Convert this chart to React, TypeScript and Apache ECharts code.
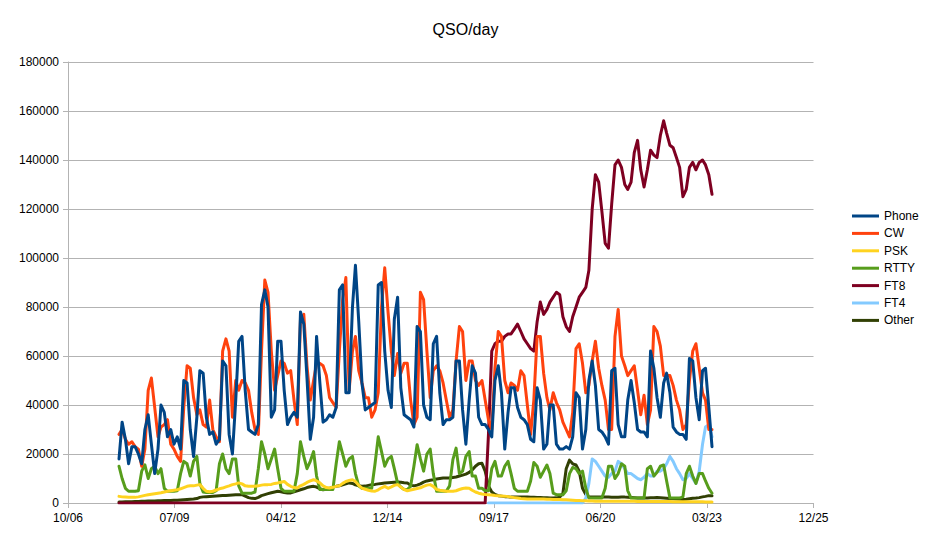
import React, { useEffect, useRef } from "react";
import * as echarts from "echarts";

// Monthly samples (1st of each month); all series start at firstMonth except FT4
const firstMonth = "2008-02";
const ft4FirstMonth = "2017-08";

const seriesNames = ["Phone", "CW", "PSK", "RTTY", "FT8", "FT4", "Other"];
const seriesColors = ["#004586", "#ff420e", "#ffd320", "#579d1c", "#7e0021", "#83caff", "#314004"];

const phone = [
  18000, 33000, 26000, 16000, 23000, 23000, 20000, 16000, 30000, 36000, 24000,
  12000, 22000, 40000, 37000, 27000, 30000, 24000, 27000, 22000, 50000, 49000, 30000,
  19000, 35000, 54000, 53000, 35000, 28000, 29000, 24000, 26000, 58000, 56000, 28000,
  20000, 42000, 66000, 68000, 46000, 30000, 29000, 28000, 32000, 81000, 87000, 80000,
  35000, 38000, 66000, 66000, 46000, 32000, 35000, 37000, 35000, 78000, 73000, 51000,
  26000, 35000, 68000, 49000, 33000, 34000, 36000, 35000, 39000, 87000, 89000, 45000,
  45000, 80000, 97000, 74000, 49000, 38000, 39000, 40000, 41000, 89000, 90000, 62000,
  46000, 39000, 75000, 84000, 47000, 36000, 35000, 34000, 31000, 72000, 70000, 40000,
  35000, 34000, 65000, 68000, 45000, 32000, 34000, 34000, 35000, 58000, 58000, 38000,
  24000, 42000, 56000, 53000, 35000, 32000, 32000, 30000, 27000, 50000, 56000, 45000,
  22000, 37000, 47000, 47000, 39000, 35000, 34000, 32000, 26000, 25000, 47000, 42000,
  22000, 24000, 40000, 40000, 24000, 22000, 22000, 23000, 22000, 27000, 45000, 43000,
  22000, 30000, 50000, 58000, 48000, 30000, 29000, 27000, 24000, 54000, 55000, 32000,
  27000, 27000, 42000, 50000, 41000, 30000, 29000, 29000, 27000, 62000, 55000, 43000,
  35000, 49000, 53000, 45000, 31000, 29000, 28000, 28000, 26000, 59000, 58000, 43000,
  34000, 54000, 55000, 39000, 23000,
];

const cw = [
  28000, 30000, 26000, 24000, 25000, 23000, 22000, 15000, 22000, 46000, 51000,
  39000, 27000, 31000, 32000, 34000, 24000, 22000, 19000, 17000, 39000, 56000, 55000,
  43000, 36000, 38000, 32000, 31000, 42000, 30000, 27000, 25000, 62000, 67000, 62000,
  35000, 50000, 46000, 50000, 49000, 46000, 37000, 30000, 28000, 62000, 91000, 86000,
  62000, 46000, 52000, 58000, 57000, 53000, 54000, 42000, 32000, 75000, 77000, 56000,
  42000, 50000, 57000, 57000, 56000, 52000, 43000, 41000, 39000, 62000, 83000, 92000,
  46000, 62000, 68000, 54000, 49000, 43000, 43000, 35000, 38000, 45000, 80000, 96000,
  78000, 62000, 52000, 61000, 53000, 57000, 57000, 42000, 32000, 35000, 86000, 83000,
  62000, 43000, 54000, 56000, 54000, 49000, 42000, 35000, 38000, 58000, 72000, 70000,
  50000, 58000, 58000, 50000, 48000, 50000, 42000, 34000, 30000, 55000, 70000, 68000,
  50000, 45000, 49000, 48000, 46000, 54000, 52000, 40000, 28000, 42000, 68000, 68000,
  53000, 43000, 38000, 45000, 41000, 38000, 33000, 30000, 27000, 37000, 63000, 65000,
  57000, 45000, 48000, 58000, 66000, 55000, 48000, 42000, 30000, 30000, 68000, 79000,
  60000, 56000, 52000, 54000, 56000, 46000, 36000, 44000, 32000, 38000, 72000, 70000,
  64000, 52000, 52000, 52000, 48000, 42000, 38000, 30000, 32000, 50000, 62000, 65000,
  55000, 45000, 42000, 30000, 30000,
];

const psk = [
  2700, 2500, 2400, 2300, 2300, 2300, 2500, 2800, 3100, 3400, 3600,
  3800, 4000, 4200, 4500, 4800, 5000, 5200, 5400, 5800, 6300, 6800, 7000,
  7000, 7300, 7500, 6000, 4800, 4600, 4800, 5300, 5800, 6100, 6600, 7000,
  7500, 7800, 8200, 7800, 7000, 6800, 6800, 6800, 7000, 7300, 7500, 7500,
  7600, 8000, 8200, 8500, 8800, 7600, 6800, 6300, 6100, 7000, 7600, 8400,
  9000, 9500, 9000, 8200, 7000, 6300, 6100, 6400, 6800, 7000, 8000, 8800,
  9200, 9500, 8800, 7200, 6100, 5600, 5200, 4900, 4800, 5400, 6200, 6800,
  6000, 6600, 7200, 7500, 6500, 5500, 5000, 5300, 5600, 5900, 6200, 6800,
  7300, 7500, 6800, 5500, 5200, 5000, 4800, 4800, 4800, 5000, 5500, 5900,
  6100, 6000, 5200, 4500, 4000, 3700, 3500, 3400, 3300, 3100, 3000, 2900,
  2800, 2600, 2400, 2200, 2000, 1800, 1700, 1600, 1600, 1600, 1600, 1600,
  1600, 1500, 1500, 1400, 1400, 1400, 1300, 1300, 1200, 1100, 1000, 1000,
  900, 900, 800, 800, 700, 700, 700, 700, 700, 700, 700, 700,
  700, 700, 700, 700, 700, 600, 600, 600, 600, 600, 600, 600,
  600, 600, 600, 600, 500, 500, 500, 500, 500, 500, 500, 500,
  500, 500, 400, 400, 400,
];

const rtty = [
  15000, 10000, 6000, 4800, 4800, 4800, 5000, 13000, 15600, 10000, 14000,
  15000, 12000, 14000, 6000, 4800, 4800, 4800, 5000, 12000, 17000, 16000, 11000,
  17000, 19000, 8000, 4500, 4300, 4300, 4300, 5000, 16000, 20000, 14000, 12000,
  18000, 18000, 7000, 4000, 4000, 4000, 4000, 4500, 14000, 25000, 20000, 14000,
  18000, 22000, 14000, 6000, 4800, 4800, 4800, 4800, 12000, 25000, 19000, 14000,
  17000, 21000, 11000, 5500, 5500, 5500, 5500, 5500, 16000, 25000, 20000, 15000,
  18000, 19000, 12000, 7000, 6000, 6000, 6000, 6000, 16000, 27000, 21000, 15000,
  18000, 19000, 14000, 8000, 6500, 5500, 5500, 6800, 15000, 23800, 18000, 13000,
  20000, 22000, 12000, 4800, 4800, 4800, 4800, 7000, 17700, 22400, 12000, 13000,
  19000, 21000, 11000, 11000, 6000, 6000, 5000, 5000, 14000, 17000, 11000, 11000,
  15000, 17000, 12000, 6000, 4800, 4800, 4800, 4800, 9000, 16500, 15000, 10500,
  13000, 15500, 12000, 4000, 3400, 3400, 3400, 5000, 12000, 14500, 14000, 12000,
  13000, 6000, 2000, 2000, 2000, 2000, 2000, 6000, 15000, 15000, 10000, 12000,
  16000, 15000, 5000, 2000, 2000, 2000, 2000, 2000, 14000, 15000, 11000, 12500,
  15000, 15500, 9000, 2000, 2000, 2000, 2000, 2500, 12000, 15000, 11000, 8000,
  12000, 12000, 9000, 6000, 4000,
];

const ft8 = [
  0, 0, 0, 0, 0, 0, 0, 0, 0, 0, 0,
  0, 0, 0, 0, 0, 0, 0, 0, 0, 0, 0, 0,
  0, 0, 0, 0, 0, 0, 0, 0, 0, 0, 0, 0,
  0, 0, 0, 0, 0, 0, 0, 0, 0, 0, 0, 0,
  0, 0, 0, 0, 0, 0, 0, 0, 0, 0, 0, 0,
  0, 0, 0, 0, 0, 0, 0, 0, 0, 0, 0, 0,
  0, 0, 0, 0, 0, 0, 0, 0, 0, 0, 0, 0,
  0, 0, 0, 0, 0, 0, 0, 0, 0, 0, 0, 0,
  0, 0, 0, 0, 0, 0, 0, 0, 0, 0, 0, 0,
  0, 0, 0, 0, 0, 0, 0, 28000, 62000, 65000, 66000, 66000,
  68000, 69000, 69000, 71000, 73000, 70000, 67000, 65000, 63000, 62000, 74000, 82000,
  77000, 79000, 82000, 84000, 86000, 85000, 76000, 72000, 70000, 76000, 80000, 84000,
  86000, 88000, 95000, 120000, 134000, 131000, 119000, 106000, 104000, 122000, 138000, 140000,
  137000, 130000, 128000, 131000, 143000, 148000, 136000, 129000, 136000, 144000, 142000, 141000,
  150000, 156000, 151000, 146000, 145000, 141000, 137000, 125000, 128000, 137000, 139000, 136000,
  139000, 140000, 138000, 134000, 126000,
];

const ft4 = [
  0, 0, 0, 0, 0,
  0, 0, 0, 0, 0, 0, 0, 0, 0, 0, 0, 0,
  0, 0, 0, 0, 0, 0, 0, 0, 0, 0, 0, 0,
  0, 2000, 8000, 18000, 17000, 15000, 13000, 11000, 10500, 12000, 13000, 17000,
  16000, 14000, 12000, 12000, 11000, 10000, 9500, 10500, 12000, 11000, 11000, 13000,
  13000, 14000, 16000, 19000, 17000, 14000, 12000, 9500, 10000, 12000, 10000, 8000,
  13000, 24000, 31000, 32000, 27000,
];

const other = [
  400, 400, 500, 500, 500, 600, 600, 700, 700, 800, 800,
  800, 900, 900, 1000, 1000, 1000, 1100, 1100, 1200, 1300, 1400, 1500,
  1600, 1800, 2300, 2500, 2600, 2700, 2800, 2900, 3000, 3100, 3100, 3200,
  3300, 3400, 3400, 3400, 2800, 2200, 1900, 1800, 2300, 3000, 3400, 3800,
  4200, 4500, 4800, 4600, 4300, 4100, 4100, 4600, 5000, 5400, 5800, 6300,
  6600, 6800, 6500, 5800, 5400, 5600, 6000, 6500, 6800, 7000, 7400, 7800,
  8200, 8000, 7400, 7000, 6800, 6900, 7200, 7500, 7600, 7800, 8000, 8200,
  8300, 8400, 8500, 8600, 8500, 8300, 8200, 7200, 7000, 7300, 7800, 8500,
  9000, 9300, 9500, 9800, 10000, 10200, 10200, 10200, 10400, 10600, 11000, 11400,
  11800, 12500, 13500, 15000, 16000, 16200, 13000, 7000, 4500, 3500, 3000, 2800,
  2600, 2500, 2400, 2400, 2400, 2400, 2400, 2400, 2300, 2300, 2200, 2200,
  2100, 2100, 2000, 2000, 2100, 2400, 4000, 14000, 17500, 16000, 15500, 13000,
  6000, 3500, 2500, 2400, 2400, 2400, 2400, 2400, 2400, 2300, 2300, 2300,
  2400, 2400, 2300, 2200, 2100, 2000, 2000, 2000, 2000, 2100, 2100, 2200,
  2100, 2000, 1900, 1800, 1700, 1600, 1500, 1400, 1500, 1700, 1900, 2000,
  2200, 2500, 2700, 3000, 3000,
];

// x axis: spreadsheet day serials (day 0 = 1899-12-30)
const xMin = 39000;
const xMax = 46000;
const xStep = 1000;
const yMax = 180000;
const yStep = 20000;

const EPOCH = Date.UTC(1899, 11, 30);
const DAY = 86400000;

function monthSerial(start: string, i: number): number {
  const [y, m] = start.split("-").map(Number);
  return Math.round((Date.UTC(y, m - 1 + i, 1) - EPOCH) / DAY);
}

function toPairs(start: string, values: number[]) {
  return values.map((v, i) => [monthSerial(start, i), v]);
}

function serialLabel(v: number): string {
  const d = new Date(EPOCH + v * DAY);
  const mm = String(d.getUTCMonth() + 1).padStart(2, "0");
  const yy = String(d.getUTCFullYear() % 100).padStart(2, "0");
  return mm + "/" + yy;
}

const FONT = "'Liberation Sans', Arial, sans-serif";

export default function App() {
  const ref = useRef<HTMLDivElement>(null);

  useEffect(() => {
    if (!ref.current) return;
    const chart = echarts.init(ref.current, undefined, { renderer: "svg" });
    const dataSets = [
      toPairs(firstMonth, phone),
      toPairs(firstMonth, cw),
      toPairs(firstMonth, psk),
      toPairs(firstMonth, rtty),
      toPairs(firstMonth, ft8),
      toPairs(ft4FirstMonth, ft4),
      toPairs(firstMonth, other),
    ];
    chart.setOption({
      animation: false,
      backgroundColor: "#ffffff",
      textStyle: { fontFamily: FONT },
      title: {
        text: "QSO/day",
        left: "center",
        top: 21,
        padding: 0,
        textStyle: { fontFamily: FONT, fontSize: 16, fontWeight: "normal", color: "#000000" },
      },
      legend: {
        orient: "vertical",
        left: 852,
        top: 209,
        padding: 0,
        icon: "rect",
        itemWidth: 27,
        itemHeight: 3,
        itemGap: 3.4,
        data: seriesNames,
        textStyle: { fontFamily: FONT, fontSize: 12, color: "#000000", lineHeight: 14 },
      },
      grid: { left: 68, right: 117.5, top: 62, bottom: 34, containLabel: false },
      xAxis: {
        type: "value",
        min: xMin,
        max: xMax,
        interval: xStep,
        axisLine: { show: true, onZero: false, lineStyle: { color: "#b3b3b3", width: 1 } },
        axisTick: { show: true, length: 5, inside: false, lineStyle: { color: "#b3b3b3" } },
        splitLine: { show: false },
        axisLabel: {
          margin: 9,
          fontFamily: FONT,
          fontSize: 12,
          color: "#000000",
          formatter: (v: number) => serialLabel(v),
        },
      },
      yAxis: {
        type: "value",
        min: 0,
        max: yMax,
        interval: yStep,
        axisLine: { show: true, lineStyle: { color: "#b3b3b3", width: 1 } },
        axisTick: { show: true, length: 5, inside: false, lineStyle: { color: "#b3b3b3" } },
        splitLine: { show: true, lineStyle: { color: "#b3b3b3", width: 1 } },
        axisLabel: {
          margin: 9,
          fontFamily: FONT,
          fontSize: 12,
          color: "#000000",
          formatter: (v: number) => String(v),
        },
      },
      series: seriesNames.map((name, i) => ({
        name,
        type: "line",
        data: dataSets[i],
        z: 10 - i,
        showSymbol: false,
        symbol: "none",
        smooth: false,
        color: seriesColors[i],
        itemStyle: { color: seriesColors[i] },
        lineStyle: { color: seriesColors[i], width: 3, cap: "round", join: "round" },
        emphasis: { disabled: true },
      })),
    });
    return () => chart.dispose();
  }, []);

  return (
    <div
      ref={ref}
      style={{ position: "fixed", left: 0, top: 0, width: 931, height: 537, background: "#fff" }}
    />
  );
}
